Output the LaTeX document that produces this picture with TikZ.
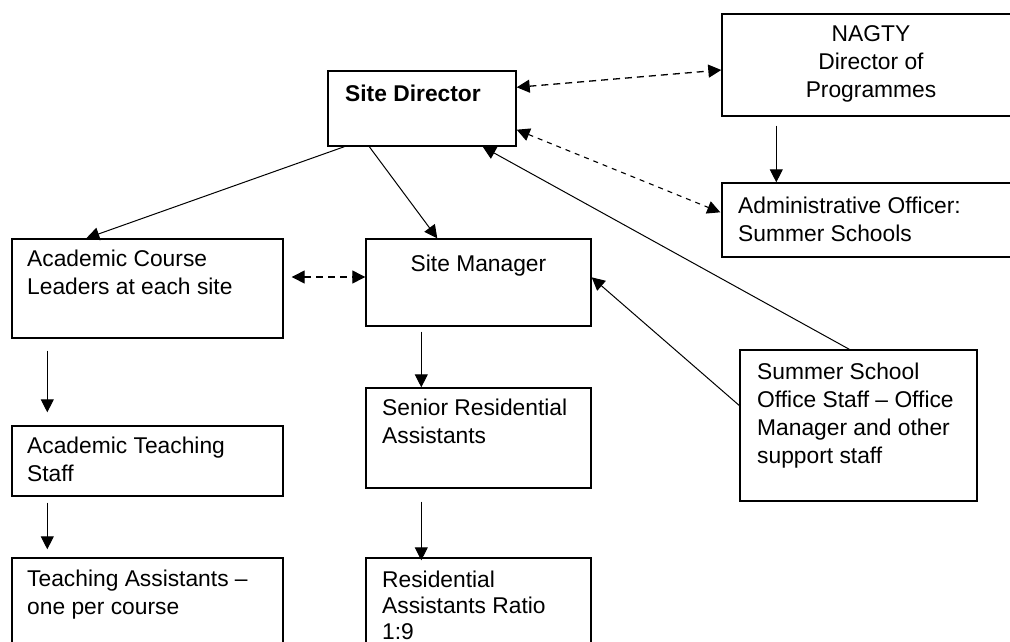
\documentclass[tikz,border=0pt]{standalone}
\usepackage{fontspec}
\setmainfont{Liberation Sans}
\usetikzlibrary{arrows.meta,calc}
\tikzset{
  box/.style={draw=black,line width=1.4pt,inner sep=0pt,rectangle},
  txt/.style={inner sep=0pt,align=left,anchor=north west,font=\fontsize{22.8}{28}\selectfont},
  ctxt/.style={inner sep=0pt,align=center,anchor=north,font=\fontsize{22.8}{28}\selectfont},
  tip/.tip={Triangle[length=13pt,width=13pt]},
  arr/.style={line width=1pt,-tip},
  darr/.style={line width=1.3pt,dash pattern=on 7pt off 5pt,tip-tip},
  darrs/.style={line width=1.1pt,dash pattern=on 5pt off 5pt,tip-tip}
}
\begin{document}
\begin{tikzpicture}[x=1pt,y=-1pt]
\useasboundingbox[fill=white] (0,0) rectangle (1010,641);
\clip (0,0) rectangle (1010,641);
% boxes
\node[box,minimum width=188pt,minimum height=75pt] (sd) at (422,108.5) {};
\node[box,minimum width=298pt,minimum height=102pt] (nagty) at (871,65) {};
\node[box,minimum width=298pt,minimum height=74pt] (admin) at (871,220) {};
\node[box,minimum width=271pt,minimum height=99pt] (acl) at (147.5,288.5) {};
\node[box,minimum width=225pt,minimum height=87pt] (sm) at (478.5,282.5) {};
\node[box,minimum width=271pt,minimum height=70pt] (ats) at (147.5,461) {};
\node[box,minimum width=271pt,minimum height=102pt] (ta) at (147.5,609) {};
\node[box,minimum width=225pt,minimum height=100pt] (sra) at (478.5,438) {};
\node[box,minimum width=225pt,minimum height=102pt] (ra) at (478.5,609) {};
\node[box,minimum width=237pt,minimum height=151pt] (sso) at (858.5,425.5) {};
% texts
\node[txt,font=\fontsize{22.8}{28}\selectfont\bfseries] (sdt) at (345,85) {Site Director};
\node[ctxt] (nagtyt) at (871,25) {NAGTY\\Director of\\Programmes};
\node[txt] (admint) at (738,197) {Administrative Officer:\\Summer Schools};
\node[txt] (ssot) at (757,363) {Summer School\\Office Staff -- Office\\Manager and other\\support staff};
\node[ctxt] (smt) at (478.5,255) {Site Manager};
\node[txt] (aclt) at (27,250) {Academic Course\\Leaders at each site};
\node[txt] (atst) at (27,437) {Academic Teaching\\Staff};
\node[txt] (tat) at (27,570) {Teaching Assistants --\\one per course};
\node[txt] (srat) at (382,399) {Senior Residential\\Assistants};
\node[txt,font=\fontsize{22.8}{26}\selectfont] (rat) at (382,571) {Residential\\Assistants Ratio\\1:9};
% connectors
\draw[arr] ($(sd.south west)+(17,0)$) -- ($(acl.north west)+(75,0)$);
\draw[arr] ($(sd.south west)+(42,0)$) -- ($(sm.north west)+(72,0)$);
\draw[darr] ($(sd.north east)+(0,17)$) -- ($(nagty.west)+(0,5)$);
\draw[darrs] ($(sd.south east)+(0,-17)$) -- ($(admin.north west)+(-1,30)$);
\draw[arr] ($(nagty.south west)+(55,9)$) -- ($(admin.north west)+(55,0)$);
\draw[arr] ($(sso.north west)+(110,0)$) -- ($(sd.south east)+(-34,0)$);
\draw[arr] ($(sso.west)+(0,-20)$) -- ($(sm.north east)+(0,39)$);
\draw[darr] ($(acl.east)+(8,-11.5)$) -- ($(sm.west)+(0,-5.5)$);
\draw[arr] ($(acl.south west)+(36,12)$) -- ($(ats.north west)+(36,-13)$);
\draw[arr] ($(ats.south west)+(36,6)$) -- ($(ta.north west)+(36,-8)$);
\draw[arr] ($(sm.south west)+(56,5)$) -- ($(sra.north west)+(56,0)$);
\draw[arr] ($(sra.south west)+(56,13)$) -- ($(ra.north west)+(56,3)$);
\end{tikzpicture}
\end{document}
